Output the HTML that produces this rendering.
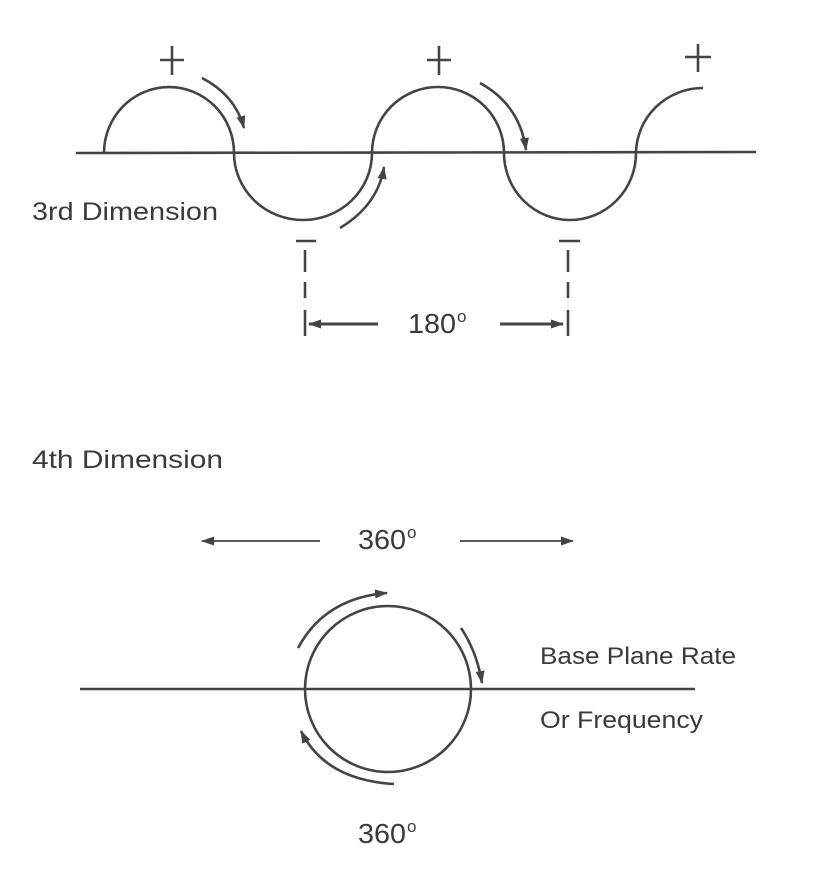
<!DOCTYPE html>
<html><head><style>
html,body{margin:0;padding:0;background:#fff;}
svg{display:block}
text{font-family:"Liberation Sans",sans-serif;fill:#3a3a3a;}
</style></head><body>
<svg width="823" height="884" viewBox="0 0 823 884" xmlns="http://www.w3.org/2000/svg">
<defs>
<marker id="ah" markerWidth="13" markerHeight="9" refX="12" refY="4.5" orient="auto" markerUnits="userSpaceOnUse">
<path d="M0,0 L13,4.5 L0,9 Z" fill="#444"/>
</marker>
</defs>
<g stroke="#444" stroke-width="2.6" fill="none">
<line x1="76" y1="153" x2="756" y2="152"/>
<path d="M104,153 A65,66 0 0 1 234,153 A69,67 0 0 0 372,153 A66,66 0 0 1 504,153 A66,67 0 0 0 636,153 A67,66 0 0 1 703,88"/>
<line x1="160" y1="60" x2="184" y2="60"/><line x1="172" y1="46" x2="172" y2="75"/>
<line x1="427" y1="60" x2="451" y2="60"/><line x1="439" y1="46" x2="439" y2="75"/>
<line x1="685" y1="57" x2="711" y2="57"/><line x1="698" y1="44" x2="698" y2="72"/>
<path d="M202,78 Q235,95 244,128" marker-end="url(#ah)"/>
<path d="M480,83 Q520,105 526,150" marker-end="url(#ah)"/>
<path d="M340,228 Q378,205 384,167" marker-end="url(#ah)"/>
<line x1="296" y1="241" x2="316" y2="241"/>
<line x1="559" y1="241" x2="580" y2="241"/>
<line x1="305" y1="250" x2="305" y2="272"/><line x1="305" y1="282" x2="305" y2="298"/><line x1="305" y1="310" x2="305" y2="336"/>
<line x1="568" y1="250" x2="568" y2="272"/><line x1="568" y1="282" x2="568" y2="298"/><line x1="568" y1="310" x2="568" y2="336"/>
<line x1="378" y1="324" x2="309" y2="324" stroke-width="3" marker-end="url(#ah)"/>
<line x1="500" y1="324" x2="563" y2="324" stroke-width="3" marker-end="url(#ah)"/>
<line x1="320" y1="541" x2="202" y2="541" stroke-width="1.8" marker-end="url(#ah)"/>
<line x1="460" y1="541" x2="573" y2="541" stroke-width="1.8" marker-end="url(#ah)"/>
<line x1="80" y1="689" x2="695" y2="689"/>
<circle cx="388" cy="689" r="83"/>
<path d="M298,648 Q325,598 387,593" marker-end="url(#ah)"/>
<path d="M461,628 Q477,652 482,683" marker-end="url(#ah)"/>
<path d="M394,784 Q325,780 301,731" marker-end="url(#ah)"/>
</g>
<text x="32" y="220" font-size="25" textLength="186" lengthAdjust="spacingAndGlyphs">3rd Dimension</text>
<text x="32" y="468" font-size="25" textLength="191" lengthAdjust="spacingAndGlyphs">4th Dimension</text>
<text x="408" y="333" font-size="28" textLength="48" lengthAdjust="spacingAndGlyphs">180</text><text x="457" y="322" font-size="17">o</text>
<text x="358" y="549" font-size="28" textLength="48" lengthAdjust="spacingAndGlyphs">360</text><text x="407" y="538" font-size="17">o</text>
<text x="358" y="843" font-size="28" textLength="48" lengthAdjust="spacingAndGlyphs">360</text><text x="407" y="832" font-size="17">o</text>
<text x="540" y="664" font-size="24" textLength="196" lengthAdjust="spacingAndGlyphs">Base Plane Rate</text>
<text x="540" y="728" font-size="24" textLength="163" lengthAdjust="spacingAndGlyphs">Or Frequency</text>
</svg>
</body></html>
